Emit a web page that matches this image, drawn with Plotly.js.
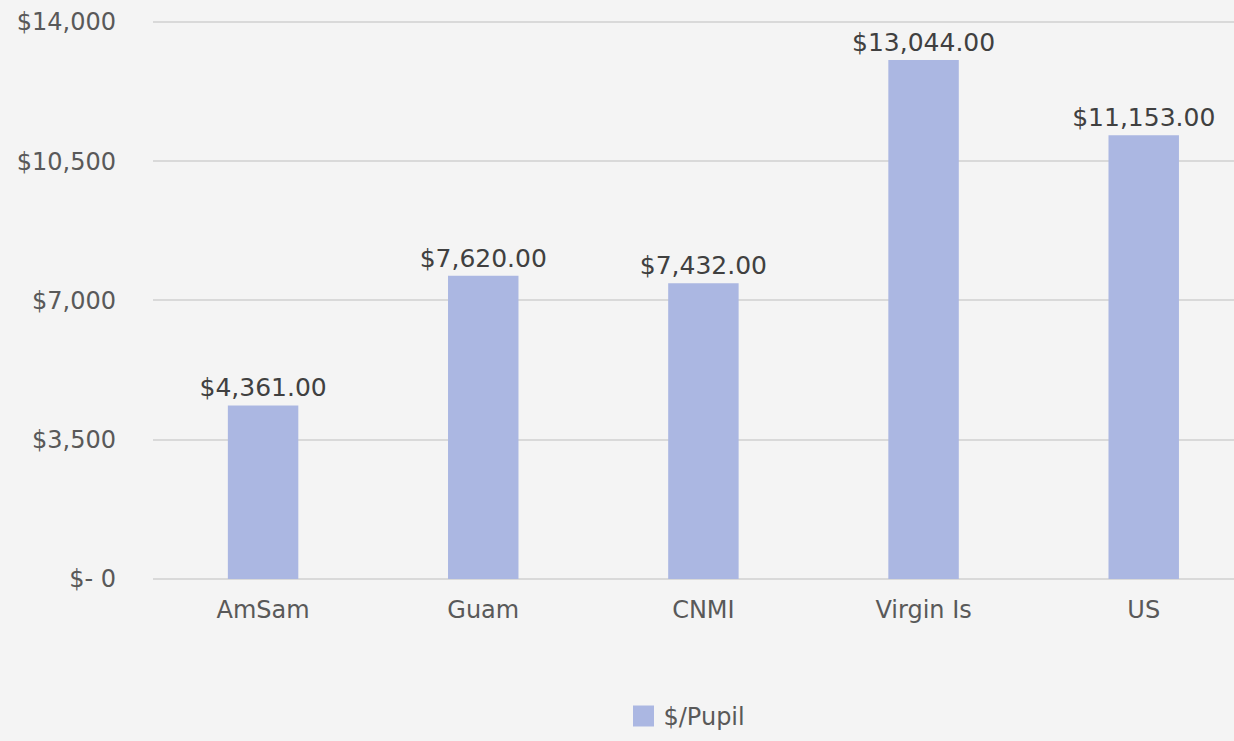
<!DOCTYPE html>
<html>
<head>
<meta charset="utf-8">
<script src="https://cdn.plot.ly/plotly-3.0.1.min.js"></script>
<style>html,body{margin:0;padding:0;background:#f4f4f4;}#chart{width:1234px;height:741px;}</style>
</head>
<body>
<div id="chart"></div>
<script>
const categories = ["AmSam", "Guam", "CNMI", "Virgin Is", "US"];
const perPupil = [4361, 7620, 7432, 13044, 11153];
const seriesName = "$/Pupil";
const yTickVals = [0, 3500, 7000, 10500, 14000];
const yTickText = ["$- 0", "$3,500", "$7,000", "$10,500", "$14,000"];

const font = "DejaVu Sans, Verdana, sans-serif";
const barColor = "#abb7e2";

const bars = {
  type: "bar",
  x: categories,
  y: perPupil,
  name: seriesName,
  showlegend: false,
  width: 0.32,
  marker: {color: barColor},
  texttemplate: "$%{y:,.2f}",
  textposition: "outside",
  constraintext: "none",
  cliponaxis: false,
  textfont: {family: font, size: 25, color: "#404040"},
  hoverinfo: "x+y"
};

const legendEntry = {
  type: "scatter",
  mode: "markers",
  x: [null],
  y: [null],
  name: seriesName,
  showlegend: true,
  marker: {symbol: "square", size: 27, color: barColor, line: {color: barColor, width: 5}},
  hoverinfo: "skip"
};

const layout = {
  width: 1234,
  height: 741,
  margin: {l: 153, r: 0, t: 18, b: 162},
  paper_bgcolor: "#f4f4f4",
  plot_bgcolor: "rgba(0,0,0,0)",
  font: {family: font, size: 24, color: "#595959"},
  showlegend: true,
  legend: {
    orientation: "h",
    x: 0.494, xref: "paper", xanchor: "center",
    y: -0.245, yanchor: "middle",
    itemsizing: "trace",
    font: {family: font, size: 24, color: "#595959"},
    bgcolor: "rgba(0,0,0,0)"
  },
  xaxis: {
    type: "category",
    range: [-0.5, 4.41],
    showgrid: false,
    showline: false,
    zeroline: false,
    ticks: "",
    ticklabelstandoff: 14,
    tickfont: {family: font, size: 24, color: "#595959"}
  },
  yaxis: {
    range: [0, 14100],
    tickvals: yTickVals,
    ticktext: yTickText,
    showgrid: true,
    gridcolor: "#d9d9d9",
    gridwidth: 2,
    zeroline: true,
    zerolinecolor: "#d9d9d9",
    zerolinewidth: 2,
    showline: false,
    ticks: "",
    ticklabelstandoff: 36,
    tickfont: {family: font, size: 24, color: "#595959"}
  }
};

Plotly.newPlot("chart", [bars, legendEntry], layout, {displayModeBar: false, staticPlot: true});
</script>
</body>
</html>
